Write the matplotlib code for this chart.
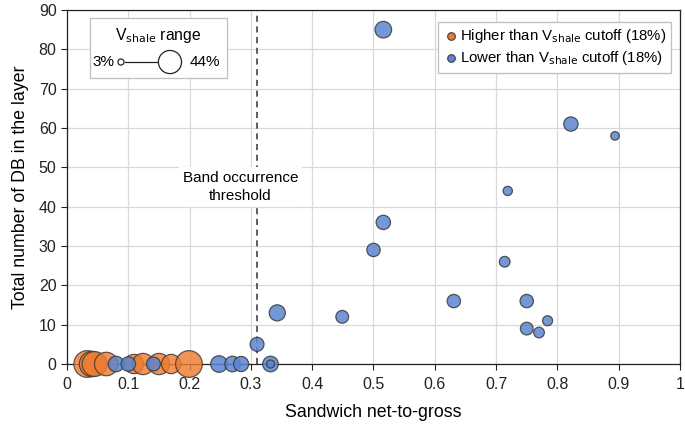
import numpy as np
import matplotlib
matplotlib.use("Agg")
import matplotlib.pyplot as plt
from matplotlib.patches import Rectangle

plt.rcParams["font.family"] = ["Liberation Sans", "DejaVu Sans"]

# ── Data ─────────────────────────────────────────────────────────────────────
# x = sandwich net-to-gross, y = number of DB, v = Vshale (%) -> bubble size
hi_x = [0.033, 0.041, 0.045, 0.064, 0.109, 0.124, 0.150, 0.170, 0.199]
hi_y = [0, 0, 0, 0, 0, 0, 0, 0, 0]
hi_v = [44, 40, 38, 34, 23, 28, 28, 23, 44]

lo_x = [0.516, 0.822, 0.894, 0.719, 0.516, 0.500, 0.714, 0.631, 0.750,
        0.449, 0.784, 0.750, 0.770, 0.343, 0.310,
        0.080, 0.100, 0.141, 0.248, 0.270, 0.284, 0.332, 0.332]
lo_y = [85, 61, 58, 44, 36, 29, 26, 16, 16,
        12, 11, 9, 8, 13, 5,
        0, 0, 0, 0, 0, 0, 0, 0]
lo_v = [17, 12.6, 4.5, 5.3, 12.6, 11, 7, 11, 11,
        10, 6.2, 10, 7, 16, 12,
        15, 13, 12, 17, 15, 14, 15, 4]

threshold = 0.31
vsh_min, vsh_max = 3, 44

ORANGE = "#EE7D31"
BLUE = "#5B85D0"
EDGE = "#3a3a3a"


def bubble(v, k=8.4):
    # area proportional to Vshale
    return np.asarray(v, dtype=float) * k


fig = plt.figure(figsize=(6.85, 4.29), dpi=100)
ax = fig.add_axes([0.0978, 0.1515, 0.8949, 0.8252])

ax.set_xlim(0, 1)
ax.set_ylim(0, 90)
ax.set_xticks(np.arange(0, 1.01, 0.1))
ax.set_xticklabels(["0", "0.1", "0.2", "0.3", "0.4", "0.5", "0.6", "0.7", "0.8", "0.9", "1"])
ax.set_yticks(np.arange(0, 91, 10))
ax.tick_params(axis="both", direction="out", length=4, width=0.8, labelsize=11.5,
               color="#222222", labelcolor="#222222")
ax.tick_params(axis="x", pad=5)
ax.grid(True, color="#d9d9d9", linewidth=0.9)
ax.set_axisbelow(True)
for sp in ax.spines.values():
    sp.set_color("#222222")
    sp.set_linewidth(0.9)

ax.set_xlabel("Sandwich net-to-gross", fontsize=12.8, labelpad=9)
ax.set_ylabel("Total number of DB in the layer", fontsize=12.8, labelpad=7)

# ── Bubbles ──────────────────────────────────────────────────────────────────
ax.scatter(hi_x, hi_y, s=bubble(hi_v), color=ORANGE, alpha=0.82,
           edgecolors=EDGE, linewidths=0.9, clip_on=False, zorder=3)
ax.scatter(lo_x, lo_y, s=bubble(lo_v), color=BLUE, alpha=0.85,
           edgecolors=EDGE, linewidths=0.9, clip_on=False, zorder=3)

# ── Threshold line & label ───────────────────────────────────────────────────
ax.axvline(threshold, color="#333333", linestyle=(0, (4, 3)), linewidth=1.1, zorder=2)
ax.text(0.283, 45, "Band occurrence\nthreshold", ha="center", va="center",
        fontsize=11, linespacing=1.3, zorder=4,
        bbox=dict(facecolor="white", edgecolor="none", pad=3))

# ── Legend for colours ───────────────────────────────────────────────────────
h1 = ax.scatter([], [], s=30, color=ORANGE, edgecolors=EDGE, linewidths=0.8)
h2 = ax.scatter([], [], s=30, color=BLUE, edgecolors=EDGE, linewidths=0.8)
leg = ax.legend([h1, h2],
                [r"Higher than V$_{\rm shale}$ cutoff (18%)",
                 r"Lower than V$_{\rm shale}$ cutoff (18%)"],
                loc="upper right", bbox_to_anchor=(0.986, 0.967),
                fontsize=10.8, frameon=True, fancybox=False, framealpha=1,
                edgecolor="#bfbfbf", handletextpad=0.1, handlelength=1.0,
                borderpad=0.35, labelspacing=0.3, borderaxespad=0)
leg.get_frame().set_linewidth(0.9)

# ── Legend for bubble size (Vshale range) ────────────────────────────────────
tr = ax.transAxes
ax.add_patch(Rectangle((0.0375, 0.808), 0.2235, 0.169, transform=tr,
                       facecolor="white", edgecolor="#bfbfbf", linewidth=0.9,
                       zorder=5, clip_on=False))
ax.text(0.149, 0.929, r"V$_{\rm shale}$ range", transform=tr, ha="center",
        va="center", fontsize=11.3, zorder=6)
ax.text(0.078, 0.853, f"{vsh_min}%", transform=tr, ha="right", va="center",
        fontsize=11, zorder=6)
ax.text(0.200, 0.853, f"{vsh_max}%", transform=tr, ha="left", va="center",
        fontsize=11, zorder=6)
ax.plot([0.094, 0.149], [0.853, 0.853], transform=tr, color="#222222",
        linewidth=0.9, zorder=6, clip_on=False)
ax.scatter([0.088, 0.168], [0.853, 0.853], transform=tr,
           s=bubble([vsh_min, vsh_max], k=6.3), facecolors="white",
           edgecolors="#222222", linewidths=0.9, zorder=7, clip_on=False)

fig.savefig("out.png", dpi=100)
print("Saved: out.png")
